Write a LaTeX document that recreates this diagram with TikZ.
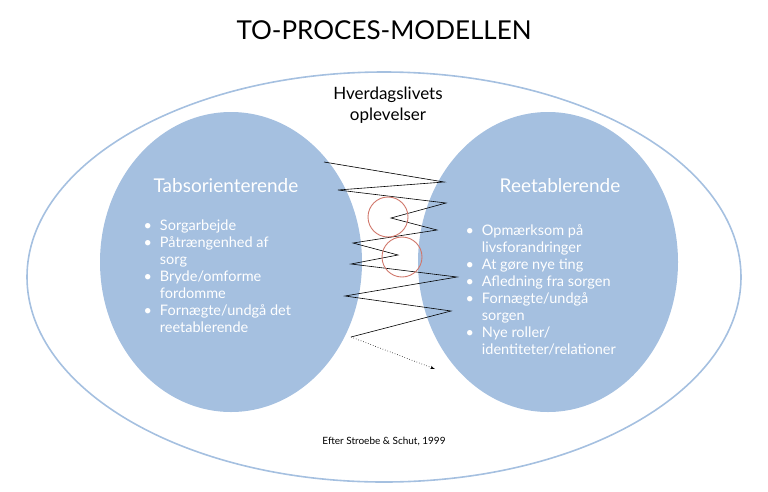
\documentclass[tikz,border=0pt]{standalone}
\usepackage{fontspec}
\setmainfont{Lato}
\usetikzlibrary{positioning,arrows}
\definecolor{bubble}{HTML}{A5C0E0}
\definecolor{ring}{HTML}{D0766A}
\begin{document}
\begin{tikzpicture}[x=1pt,y=-1pt]
	\tikzset{head style/.style={text=white, font=\fontsize{19}{22}\selectfont},
	  list style/.style={text=white, font=\fontsize{14.5}{17}\selectfont, align=left, anchor=north west}}
	\useasboundingbox (0,0) rectangle (768,491);
	\node (title) at (384,30) {\fontsize{26}{30}\selectfont TO-PROCES-MODELLEN};
	\draw[bubble, line width=1.6pt] (384,277) ellipse [x radius=357, y radius=205];
	\fill[bubble] (231,262) ellipse [x radius=131, y radius=150];
	\fill[bubble] (548,262) ellipse [x radius=130, y radius=150];
	\node[align=center, font=\fontsize{17}{21}\selectfont] (daily) at (388,105) {Hverdagslivets\\oplevelser};
	\node[head style] (left) at (226,186) {Tabsorienterende};
	\node[head style] (right) at (560,186) {Reetablerende};
	\node[list style] (llist) at (140,215) {%
	  \begin{tabular}{@{}l@{\hspace{8pt}}l@{}}
	  \textbullet & Sorgarbejde\\
	  \textbullet & Påtrængenhed af\\ & sorg\\
	  \textbullet & Bryde/omforme\\ & fordomme\\
	  \textbullet & Fornægte/undgå det\\ & reetablerende
	  \end{tabular}};
	\node[list style] (rlist) at (462,220) {%
	  \begin{tabular}{@{}l@{\hspace{8pt}}l@{}}
	  \textbullet & Opmærksom på\\ & livsforandringer\\
	  \textbullet & At gøre nye ting\\
	  \textbullet & Afledning fra sorgen\\
	  \textbullet & Fornægte/undgå\\ & sorgen\\
	  \textbullet & Nye roller/\\ & identiteter/relationer
	  \end{tabular}};
	% zigzag between the two
	\coordinate (z0) at (324,162);
	\coordinate (zend) at (351,337);
	\coordinate (tip) at (435,369);
	\draw[line width=0.6pt] (z0) -- (444,182) -- (338,190) -- (446,203) -- (391,218)
	  -- (437,230) -- (353,243) -- (398,255) -- (351,264) -- (457,277)
	  -- (345,296) -- (451,311) -- (zend);
	\draw[dotted, -latex', line width=0.6pt] (zend) -- (tip);
	\draw[ring, line width=0.9pt] (388,217) circle [radius=20];
	\draw[ring, line width=0.9pt] (402,257) circle [radius=20];
	\node[font=\fontsize{10}{12}\selectfont] (source) at (384,441) {Efter Stroebe \& Schut, 1999};
\end{tikzpicture}
\end{document}
